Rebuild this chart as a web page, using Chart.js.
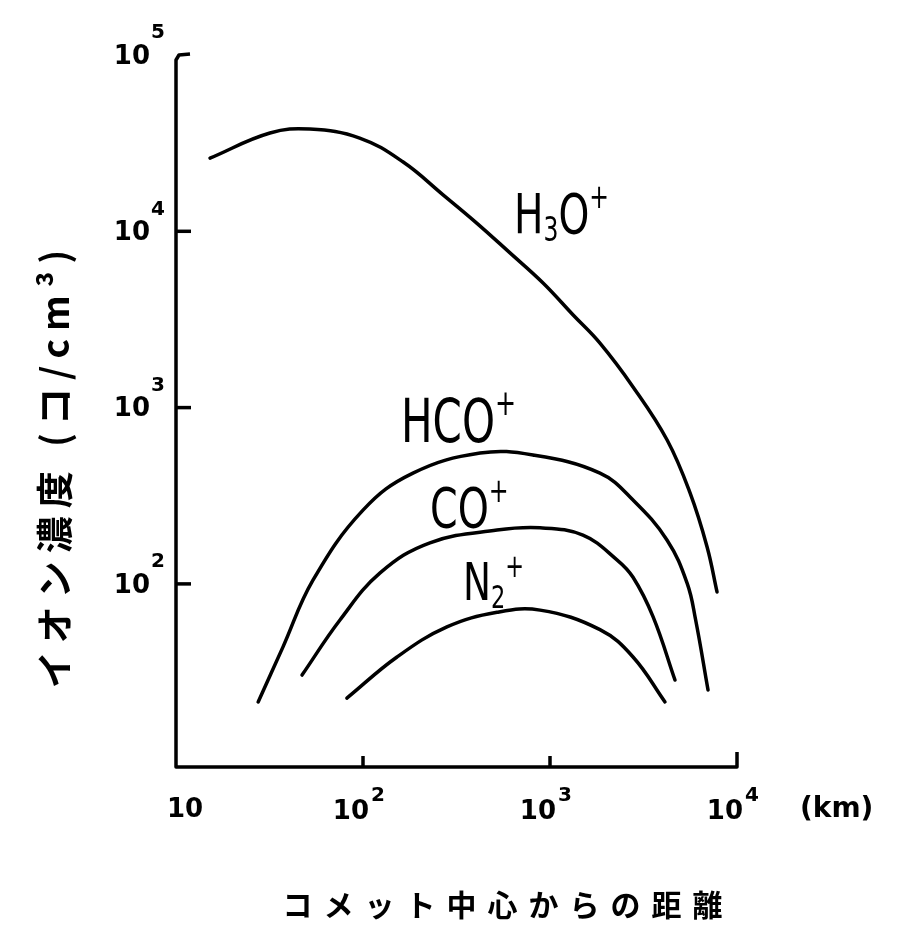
<!DOCTYPE html>
<html>
<head>
<meta charset="utf-8">
<script src="https://cdn.jsdelivr.net/npm/chart.js@4"></script>
<style>
  body { margin: 0; background: #fff; }
  #wrap { width: 897px; height: 929px; position: relative; }
</style>
</head>
<body>
<div id="wrap"><canvas id="ionChart"></canvas></div>
<script>
// distance from comet nucleus (km) and ion density (per cm3)
const h3oX = [15.2, 31.8, 52, 96, 164, 268, 407, 611, 918, 1330, 1850, 2780, 4230, 5610, 6920, 7820];
const h3oY = [26000, 36100, 38000, 33800, 24700, 16100, 11100, 7540, 5090, 3350, 2320, 1310, 655, 328, 162, 90];

const hcoX = [27.5, 37.3, 54, 100, 185, 423, 811, 1850, 2780, 4230, 5410, 6000, 7000];
const hcoY = [21.4, 43.8, 105, 262, 425, 552, 538, 425, 299, 177, 101, 63, 25];

const coX = [47.2, 75.3, 123, 228, 521, 885, 1500, 2280, 2780, 3560, 4660];
const coY = [30.4, 62.4, 115, 171, 202, 208, 189, 137, 109, 65, 28.5];

const n2X = [82, 152, 281, 521, 885, 1850, 2780, 4120];
const n2Y = [22.5, 38.5, 57, 69, 71, 55, 38.5, 21.4];

// axis ticks
const xTickValues = [10, 100, 1000, 10000];
const xTickExps = ['', '2', '3', '4'];
const yTickValues = [100, 1000, 10000, 100000];
const yTickExps = ['2', '3', '4', '5'];

const xTitle = 'コメット中心からの距離';
const yTitle = 'イオン濃度 (コ/cm³)';
const xUnit = '(km)';

function pts(xs, ys) {
    return xs.map((x, i) => ({ x: x, y: ys[i] }));
}

function chem(ctx, x, y, parts, size, sx) {
    ctx.save();
    ctx.translate(x, y);
    ctx.scale(sx, 1);
    ctx.letterSpacing = '0px';
    ctx.textAlign = 'left';
    ctx.textBaseline = 'alphabetic';
    let cx = 0;
    for (const [t, kind] of parts) {
        const fs = kind === 'n' ? size : size * 0.6;
        ctx.font = fs + 'px "DejaVu Sans"';
        const dy = kind === 'sub' ? size * 0.15 : (kind === 'sup' ? -size * 0.45 : 0);
        ctx.fillText(t, cx, dy);
        cx += ctx.measureText(t).width;
    }
    ctx.restore();
}

// hand drawn style axes, ticks and labels
const sketchAxes = {
    id: 'sketchAxes',
    afterDraw(chart) {
        const ctx = chart.ctx;
        const xs = chart.scales.x;
        const ys = chart.scales.y;
        const x0 = xs.getPixelForValue(10);
        const x1 = xs.getPixelForValue(10000);
        const top = ys.getPixelForValue(100000);
        const bottom = ys.getPixelForValue(ys.min);

        ctx.save();
        ctx.strokeStyle = '#000';
        ctx.fillStyle = '#000';
        ctx.lineWidth = 3.5;
        ctx.lineJoin = 'round';

        ctx.beginPath();
        ctx.moveTo(x0 + 14, top - 1);
        ctx.lineTo(x0 + 3, top);
        ctx.lineTo(x0, top + 5);
        ctx.lineTo(x0, bottom);
        ctx.lineTo(x1, bottom);
        ctx.lineTo(x1, bottom - 15);
        ctx.stroke();

        // inward ticks
        yTickValues.slice(0, 3).forEach(v => {
            const y = ys.getPixelForValue(v);
            ctx.beginPath();
            ctx.moveTo(x0, y);
            ctx.lineTo(x0 + 15, y);
            ctx.stroke();
        });
        xTickValues.slice(1, 3).forEach(v => {
            const x = xs.getPixelForValue(v);
            ctx.beginPath();
            ctx.moveTo(x, bottom);
            ctx.lineTo(x, bottom - 11);
            ctx.stroke();
        });

        // y tick labels
        ctx.textBaseline = 'middle';
        yTickValues.forEach((v, i) => {
            const y = ys.getPixelForValue(v);
            ctx.font = 'bold 26px "DejaVu Sans"';
            ctx.textAlign = 'right';
            ctx.fillText('10', 150, y + 2);
            ctx.font = 'bold 20px "DejaVu Sans"';
            ctx.textAlign = 'left';
            ctx.fillText(yTickExps[i], 151, y - 22);
        });

        // x tick labels
        xTickValues.forEach((v, i) => {
            const x = xs.getPixelForValue(v);
            ctx.font = 'bold 26px "DejaVu Sans"';
            if (xTickExps[i] === '') {
                ctx.textAlign = 'center';
                ctx.fillText('10', x + 9, 810);
            } else {
                ctx.textAlign = 'right';
                ctx.fillText('10', x + 6, 812);
                ctx.font = 'bold 20px "DejaVu Sans"';
                ctx.textAlign = 'left';
                ctx.fillText(xTickExps[i], x + 8, 796);
            }
        });
        ctx.font = 'bold 28px "DejaVu Sans"';
        ctx.textAlign = 'left';
        ctx.fillText(xUnit, 800, 810);

        // axis titles
        ctx.font = 'bold 30px "Noto Sans CJK JP"';
        ctx.letterSpacing = '11px';
        ctx.textAlign = 'center';
        ctx.fillText(xTitle, 508, 905);

        ctx.translate(55, 465);
        ctx.rotate(-Math.PI / 2);
        ctx.font = 'bold 37px "Noto Sans CJK JP"';
        ctx.letterSpacing = '8px';
        ctx.fillText(yTitle, 0, 0);
        ctx.restore();

        // curve labels
        ctx.save();
        ctx.fillStyle = '#000';
        chem(ctx, 514, 233, [['H', 'n'], ['3', 'sub'], ['O', 'n'], ['+', 'sup']], 56, 0.7);
        chem(ctx, 401, 442, [['HCO', 'n'], ['+', 'sup']], 60, 0.7);
        chem(ctx, 430, 527, [['CO', 'n'], ['+', 'sup']], 55, 0.72);
        chem(ctx, 463, 600, [['N', 'n'], ['2', 'sub'], ['+', 'sup']], 52, 0.72);
        ctx.restore();
    }
};

const lineStyle = {
    borderColor: '#000',
    borderWidth: 3.5,
    pointRadius: 0,
    fill: false,
    tension: 0.4,
    borderCapStyle: 'round',
    borderJoinStyle: 'round',
};

new Chart(document.getElementById('ionChart'), {
    type: 'line',
    data: {
        datasets: [
            { label: 'H3O+', data: pts(h3oX, h3oY), ...lineStyle },
            { label: 'HCO+', data: pts(hcoX, hcoY), ...lineStyle },
            { label: 'CO+', data: pts(coX, coY), ...lineStyle },
            { label: 'N2+', data: pts(n2X, n2Y), ...lineStyle },
        ]
    },
    options: {
        responsive: true,
        maintainAspectRatio: false,
        animation: false,
        layout: { padding: { left: 176, top: 55, right: 160, bottom: 162 } },
        plugins: {
            legend: { display: false },
            tooltip: { enabled: false },
        },
        scales: {
            x: { type: 'logarithmic', min: 10, max: 10000, display: false },
            y: { type: 'logarithmic', min: 9.15, max: 100000, display: false },
        },
    },
    plugins: [sketchAxes],
});
</script>
</body>
</html>
